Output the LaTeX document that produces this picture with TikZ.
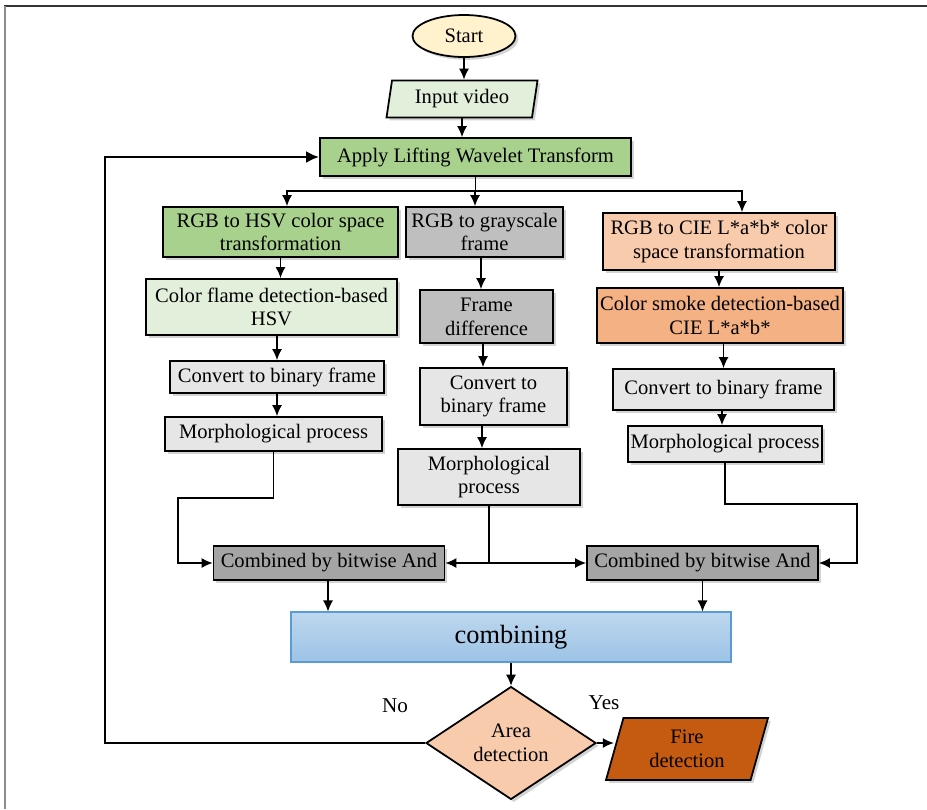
\documentclass[tikz,border=0pt]{standalone}
\usepackage{fontspec}
\setmainfont{Liberation Serif}
\usepackage{tikz}
\usetikzlibrary{shapes.geometric,shadows,arrows.meta}

\definecolor{startyel}{HTML}{FFF2CC}
\definecolor{palegreen}{HTML}{E2EFDA}
\definecolor{midgreen}{HTML}{A9D18E}
\definecolor{midgray}{HTML}{BFBFBF}
\definecolor{lightgray}{HTML}{E7E6E6}
\definecolor{darkgray}{HTML}{A5A5A5}
\definecolor{peach}{HTML}{F8CBAD}
\definecolor{salmon}{HTML}{F4B183}
\definecolor{rust}{HTML}{C55A11}
\definecolor{skytop}{HTML}{BDD7EE}
\definecolor{skybot}{HTML}{9DC3E6}
\definecolor{skyline}{HTML}{5B9BD5}

\tikzset{
  shade/.style={drop shadow={shadow xshift=1.6pt,shadow yshift=-1.6pt,opacity=0.35}},
  box/.style={draw,line width=1pt,rectangle,align=center,inner sep=1pt,
    font=\fontsize{11.7}{13.5}\selectfont,shade},
  iobox/.style={draw,line width=1pt,trapezium,trapezium stretches body,align=center,
    inner sep=1pt,font=\fontsize{11.7}{13.5}\selectfont,shade},
  link/.style={line width=0.8pt,-{Latex[length=2.2mm,width=2mm]}},
  wire/.style={line width=0.8pt}
}

\begin{document}
\begin{tikzpicture}
\useasboundingbox (0,0) rectangle (18.54,-16.18);
\draw[black!80][line width=0.8pt](0.08,-0.12)--(18.54,-0.12);
\draw[black!45][line width=1.2pt](0.1,-0.12)--(0.1,-16.18);

\node[ellipse,draw,line width=1pt,fill=startyel,shade,minimum width=2.06cm,minimum height=0.84cm,
  font=\fontsize{11.7}{13.5}\selectfont] (start) at (9.28,-0.72) {Start};
\node[iobox,fill=palegreen,trapezium left angle=76,trapezium right angle=104,
  minimum width=3.02cm,minimum height=0.74cm] (input) at (9.24,-1.98) {Input video};
\node[box,fill=midgreen,minimum width=6.22cm,minimum height=0.76cm] (apply) at (9.51,-3.14) {Apply Lifting Wavelet Transform};

\node[box,fill=midgreen,minimum width=4.7cm,minimum height=1cm] (hsv) at (5.61,-4.64) {RGB to HSV color space\\transformation};
\node[box,fill=midgray,minimum width=3.14cm,minimum height=1cm] (gray) at (9.69,-4.64) {RGB to grayscale\\frame};
\node[box,fill=peach,minimum width=4.64cm,minimum height=1.14cm] (lab) at (14.38,-4.83) {RGB to CIE L*a*b* color\\space transformation};

\node[box,fill=palegreen,minimum width=5.02cm,minimum height=1.12cm] (flame) at (5.43,-6.14) {Color flame detection-based\\HSV};
\node[box,fill=midgray,minimum width=2.66cm,minimum height=1.06cm] (diff) at (9.73,-6.33) {Frame\\difference};
\node[box,fill=salmon,minimum width=4.92cm,minimum height=1.1cm] (smoke) at (14.4,-6.31) {Color smoke detection-based\\CIE L*a*b*};

\node[box,fill=lightgray,minimum width=4.28cm,minimum height=0.64cm] (binL) at (5.54,-7.54) {Convert to binary frame};
\node[box,fill=lightgray,minimum width=2.94cm,minimum height=1.14cm] (binM) at (9.87,-7.93) {Convert to\\binary frame};
\node[box,fill=lightgray,minimum width=4.42cm,minimum height=0.82cm] (binR) at (14.47,-7.79) {Convert to binary frame};

\node[box,fill=lightgray,minimum width=4.34cm,minimum height=0.68cm] (morL) at (5.47,-8.68) {Morphological process};
\node[box,fill=lightgray,minimum width=3.64cm,minimum height=1.12cm] (morM) at (9.78,-9.54) {Morphological\\process};
\node[box,fill=lightgray,minimum width=3.88cm,minimum height=0.72cm] (morR) at (14.5,-8.88) {Morphological process};

\node[box,fill=darkgray,minimum width=4.62cm,minimum height=0.68cm] (andL) at (6.58,-11.26) {Combined by bitwise And};
\node[box,fill=darkgray,minimum width=4.62cm,minimum height=0.68cm] (andR) at (14.05,-11.26) {Combined by bitwise And};

\node[draw=skyline,line width=0.6pt,top color=skytop,bottom color=skybot,minimum width=8.8cm,minimum height=1cm,
  font=\fontsize{15}{17}\selectfont] (comb) at (10.22,-12.74) {combining};

\node[diamond,draw,line width=1pt,fill=peach,shade,minimum width=3.4cm,minimum height=2.12cm,align=center,
  inner sep=0pt,font=\fontsize{11.7}{13.5}\selectfont] (area) at (10.22,-14.86) {Area\\detection};
\node[iobox,fill=rust,trapezium left angle=67,trapezium right angle=113,
  minimum width=3.24cm,minimum height=1.24cm] (fire) at (13.74,-14.98) {Fire\\detection};

\node[font=\fontsize{12}{14}\selectfont] (no) at (7.9,-14.12) {No};
\node[font=\fontsize{12}{14}\selectfont] (yes) at (12.08,-14.06) {Yes};

\coordinate (split) at (9.51,-3.82);
\coordinate (dropL) at (3.56,-9.96);
\coordinate (dropR) at (17.14,-10.08);
\coordinate (midjoin) at (9.78,-11.26);
\coordinate (back) at (2.1,-14.86);

\draw[link] (start.south) -- (start.south |- input.north);
\draw[link] (input.south) -- (input.south |- apply.north);
\draw[wire] (apply.south) -- (split);
\draw[link] (split) -| ([xshift=0.13cm]hsv.north);
\draw[link] (split) -| ([xshift=-0.19cm]gray.north);
\draw[link] (split) -| ([xshift=0.46cm]lab.north);

\draw[link] (hsv.south) -- (hsv.south |- flame.north);
\draw[link] ([xshift=-0.07cm]gray.south) -- ([xshift=-0.07cm]gray.south |- diff.north);
\draw[link] (lab.south) -- (lab.south |- smoke.north);

\draw[link] (binL.north |- flame.south) -- (binL.north);
\draw[link] ([xshift=-0.07cm]diff.south) -- ([xshift=-0.07cm]diff.south |- binM.north);
\draw[link] (binR.north |- smoke.south) -- (binR.north);

\draw[link] (binL.south) -- (binL.south |- morL.north);
\draw[link] ([xshift=-0.23cm]binM.south) -- ([xshift=-0.23cm]binM.south |- morM.north);
\draw[link] ([xshift=-0.03cm]binR.south) -- ([xshift=-0.03cm]binR.south |- morR.north);

\draw[link] (morL.south) |- (dropL) |- (andL.west);
\draw[wire] (morM.south) -- (midjoin);
\draw[link] (midjoin) -- (andL.east);
\draw[link] (midjoin) -- (andR.west);
\draw[link] (morR.south) |- (dropR) |- (andR.east);

\draw[link] ([xshift=-0.02cm]andL.south) -- ([xshift=-0.02cm]andL.south |- comb.north);
\draw[link] (andR.south) -- (andR.south |- comb.north);
\draw[link] (comb.south) -- (area.north);
\draw[link] (area.east) -- (fire.west |- area.east);
\draw[line width=1.6pt,-{Latex[length=2.6mm,width=2.4mm]}] (area.west) -- (back) |- (apply.west);
\end{tikzpicture}
\end{document}
